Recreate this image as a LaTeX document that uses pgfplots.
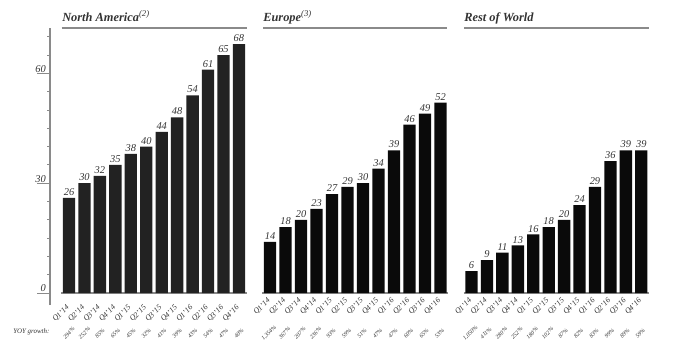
\documentclass[border=0pt]{standalone}
\usepackage{fontspec}
\setmainfont{Liberation Serif}
\usepackage{pgfplots}
\pgfplotsset{compat=1.18}
\definecolor{axgray}{HTML}{8A8A8A}
\definecolor{txt}{HTML}{333333}
\definecolor{barNA}{HTML}{222222}
\definecolor{barEU}{HTML}{0A0A0A}
\pgfplotsset{
  panel/.style={
    scale only axis, anchor=south west,
    height=198.75pt, ymin=0, ymax=72.4,
    ybar, bar width=0.8,
    axis line style={draw=none},
    xtick={0,...,11},
    xticklabels={Q1’14,Q2’14,Q3’14,Q4’14,Q1’15,Q2’15,Q3’15,Q4’15,Q1’16,Q2’16,Q3’16,Q4’16},
    xtick style={draw=none},
    xticklabel style={rotate=45, anchor=east, inner sep=0.8pt, font=\itshape\fontsize{5.8}{6.5}\selectfont, text=txt},
    nodes near coords,
    every node near coord/.append style={font=\itshape\fontsize{7.8}{8}\selectfont, text=txt, inner sep=1.5pt},
    clip=false,
    /pgf/number format/assume math mode=true,
  }
}
\begin{document}
\begin{tikzpicture}
\path[use as bounding box] (0,0) rectangle (510pt,263.25pt);
% North America
\begin{axis}[panel, at={(37.5pt,43.5pt)}, width=147.5pt, xmin=-1.23, xmax=11.5,
  ytick={0,30,60}, minor ytick={5,10,15,20,25,35,40,45,50,55,65,70},
  ytick pos=left, tick align=outside,
  major tick length=9.5pt, minor tick length=2pt,
  tick style={axgray, line width=0.6pt},
  yticklabel style={anchor=south east, inner sep=0.5pt, xshift=7pt, font=\itshape\fontsize{7.8}{8}\selectfont, text=txt}]
\draw[axgray, line width=0.8pt] (axis cs:-1.23,-3.3) -- (axis cs:-1.23,72.4);
\draw[axgray, line width=1.5pt] (axis cs:-0.5,0) -- (axis cs:11.5,0);
\addplot[fill=barNA, draw=none] coordinates {(0,26) (1,30) (2,32) (3,35) (4,38) (5,40) (6,44) (7,48) (8,54) (9,61) (10,65) (11,68)};
\end{axis}
% Europe
\begin{axis}[panel, at={(196.69pt,43.5pt)}, width=139.5pt, xmin=-0.5, xmax=11.5, ytick=\empty]
\draw[axgray, line width=1.5pt] (axis cs:-0.5,0) -- (axis cs:11.5,0);
\addplot[fill=barEU, draw=none] coordinates {(0,14) (1,18) (2,20) (3,23) (4,27) (5,29) (6,30) (7,34) (8,39) (9,46) (10,49) (11,52)};
\end{axis}
% Rest of World
\begin{axis}[panel, at={(347.85pt,43.5pt)}, width=138.9pt, xmin=-0.5, xmax=11.5, ytick=\empty]
\draw[axgray, line width=1.5pt] (axis cs:-0.5,0) -- (axis cs:11.5,0);
\addplot[fill=barEU, draw=none] coordinates {(0,6) (1,9) (2,11) (3,13) (4,16) (5,18) (6,20) (7,24) (8,29) (9,36) (10,39) (11,39)};
\end{axis}
\begin{scope}[x=0.75pt,y=0.75pt]
% titles
\node[anchor=base west, inner sep=0pt, text=txt, font=\bfseries\itshape\fontsize{9.3}{11}\selectfont] at (62,329) {North America\textsuperscript{\mdseries(2)}};
\node[anchor=base west, inner sep=0pt, text=txt, font=\bfseries\itshape\fontsize{9.3}{11}\selectfont] at (263,329) {Europe\textsuperscript{\mdseries(3)}};
\node[anchor=base west, inner sep=0pt, text=txt, font=\bfseries\itshape\fontsize{9.3}{11}\selectfont] at (464,329) {Rest of World};
\draw[axgray, line width=1.5pt] (61.7,322.7) -- (246.7,322.7);
\draw[axgray, line width=1.5pt] (263.3,322.7) -- (447.3,322.7);
\draw[axgray, line width=1.5pt] (464,322.7) -- (649,322.7);
% YOY growth
\node[anchor=base west, inner sep=0pt, text=txt, font=\itshape\fontsize{5.2}{6}\selectfont] at (13,18) {YOY growth:};
\foreach \v [count=\i from 0] in {294\%,252\%,85\%,65\%,45\%,32\%,41\%,39\%,43\%,54\%,47\%,40\%}
  \node[rotate=45, inner sep=0pt, text=txt, font=\itshape\fontsize{4.4}{5}\selectfont] at (69+15.45*\i,18) {\v};
\foreach \v [count=\i from 0] in {{1,354\%},367\%,207\%,236\%,93\%,59\%,51\%,47\%,47\%,60\%,65\%,53\%}
  \node[rotate=45, inner sep=0pt, text=txt, font=\itshape\fontsize{4.4}{5}\selectfont] at (270+15.5*\i-1,18) {\v};
\foreach \v [count=\i from 0] in {{1,050\%},411\%,280\%,252\%,180\%,102\%,87\%,82\%,83\%,99\%,89\%,59\%}
  \node[rotate=45, inner sep=0pt, text=txt, font=\itshape\fontsize{4.4}{5}\selectfont] at (471.5+15.43*\i-1,18) {\v};
\end{scope}
\end{tikzpicture}
\end{document}
